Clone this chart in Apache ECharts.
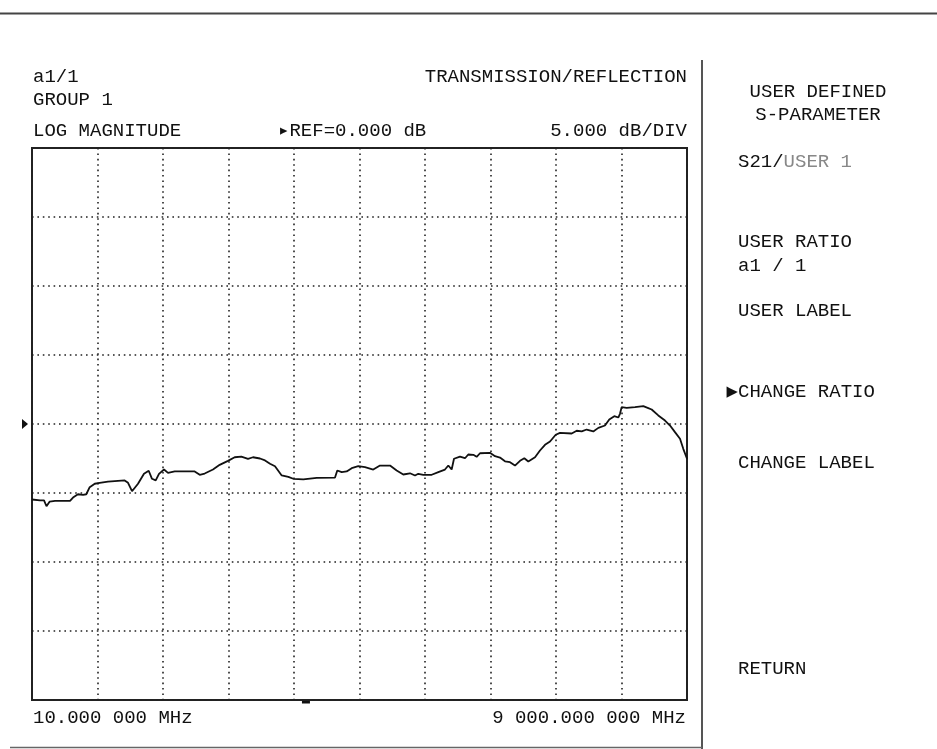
<!DOCTYPE html>
<html>
<head>
<meta charset="utf-8">
<script src="https://cdn.jsdelivr.net/npm/echarts@6/dist/echarts.min.js"></script>
<style>
html,body{margin:0;padding:0;background:#fff;}
#chart{width:937px;height:749px;}
</style>
</head>
<body>
<div id="chart"></div>
<script>
// ---- data ----
const freqMHz = [10,120,175,209,253,326,532,573,641,710,755,802,871,939,1053,1282,1328,1383,1465,1547,1612,1657,1708,1753,1822,1877,1969,2106,2243,2312,2380,2494,2586,2700,2792,2883,2975,3043,3139,3208,3277,3345,3437,3528,3596,3734,3918,4169,4200,4261,4329,4398,4488,4580,4694,4786,4924,5015,5106,5198,5267,5312,5381,5496,5587,5678,5724,5770,5802,5884,5953,5998,6067,6113,6159,6296,6365,6433,6502,6571,6639,6708,6767,6822,6914,6982,7051,7120,7198,7257,7417,7486,7555,7623,7714,7783,7874,7933,8002,8057,8080,8103,8172,8286,8400,8460,8515,8606,8698,8767,8835,8904,8949,9000];
const s21dB = [-5.47,-5.54,-5.54,-5.96,-5.62,-5.57,-5.57,-5.33,-5.09,-5.13,-5.09,-4.58,-4.33,-4.26,-4.17,-4.09,-4.26,-4.87,-4.33,-3.61,-3.39,-3.97,-4.09,-3.61,-3.30,-3.54,-3.44,-3.44,-3.44,-3.68,-3.59,-3.30,-2.96,-2.67,-2.41,-2.36,-2.52,-2.41,-2.50,-2.64,-2.88,-3.06,-3.73,-3.83,-3.97,-4.02,-3.90,-3.88,-3.37,-3.49,-3.44,-3.20,-3.06,-3.13,-3.30,-3.01,-3.01,-3.37,-3.66,-3.57,-3.73,-3.61,-3.68,-3.68,-3.49,-3.30,-3.01,-3.30,-2.52,-2.36,-2.48,-2.21,-2.23,-2.38,-2.12,-2.09,-2.33,-2.43,-2.70,-2.77,-3.01,-2.67,-2.48,-2.72,-2.41,-1.92,-1.51,-1.27,-0.78,-0.64,-0.69,-0.49,-0.54,-0.40,-0.54,-0.28,-0.11,0.33,0.57,0.47,0.74,1.22,1.17,1.22,1.29,1.17,1.05,0.62,0.25,-0.11,-0.59,-1.07,-1.80,-2.52];

const startFreq = 10;        // MHz
const stopFreq = 9000;       // MHz
const refLevel = 0;          // dB
const dbPerDiv = 5;
const yDivs = 8;
const xDivs = 10;
const markerFreq = 3770;     // MHz, small marker below the graticule

const startLabel = '10.000 000 MHz';
const stopLabel = '9 000.000 000 MHz';
const headerLeft = ['a1/1', 'GROUP 1', 'LOG MAGNITUDE'];
const headerRight = 'TRANSMISSION/REFLECTION';
const refLabel = '\u25B8REF=0.000 dB';
const scaleLabel = '5.000 dB/DIV';
const menuTitle = ['USER DEFINED', 'S-PARAMETER'];
const menuItems = ['USER RATIO', 'a1 / 1', 'USER LABEL', 'CHANGE LABEL', 'RETURN'];

const n = Math.min(freqMHz.length, s21dB.length);
const traceData = [];
for (let i = 0; i < n; i++) traceData.push([freqMHz[i], s21dB[i]]);

const FONT = "19px 'Liberation Mono', 'DejaVu Sans Mono', monospace";
const dotted = {color: '#222', width: 1.6, type: [1.6, 3.8]};

const chart = echarts.init(document.getElementById('chart'), null, {renderer: 'canvas'});

const yMin = refLevel - dbPerDiv * yDivs / 2;
const yMax = refLevel + dbPerDiv * yDivs / 2;

chart.setOption({
  animation: false,
  backgroundColor: '#ffffff',
  grid: {left: 32, top: 148, width: 655, height: 552, show: true,
         borderColor: '#222', borderWidth: 2, backgroundColor: 'transparent'},
  xAxis: [
    {type: 'value', min: startFreq, max: stopFreq, show: false},
    {type: 'value', min: 0, max: xDivs, interval: 1, position: 'bottom',
     axisLine: {show: false}, axisTick: {show: false}, axisLabel: {show: false},
     splitLine: {show: true, lineStyle: dotted}}
  ],
  yAxis: {type: 'value', min: yMin, max: yMax, interval: dbPerDiv,
    axisLine: {show: false}, axisTick: {show: false}, axisLabel: {show: false},
    splitLine: {show: true, lineStyle: dotted}},
  series: [{
    type: 'line', xAxisIndex: 0, yAxisIndex: 0, data: traceData,
    showSymbol: false, symbol: 'none', z: 5,
    lineStyle: {color: '#111', width: 1.8}
  }]
});

const refY = chart.convertToPixel({yAxisIndex: 0}, refLevel);
const markX = chart.convertToPixel({xAxisIndex: 0}, markerFreq);

function txt(text, x, y, align, extra) {
  return {type: 'text', z: 10, style: Object.assign({
    text: text, x: x, y: y, font: FONT, fill: '#111',
    textAlign: align || 'left', textVerticalAlign: 'middle'
  }, extra || {})};
}

chart.setOption({
  graphic: [
    {type: 'line', shape: {x1: 0, y1: 13.5, x2: 937, y2: 13.5}, style: {stroke: '#444', lineWidth: 2}},
    {type: 'line', shape: {x1: 702, y1: 60, x2: 702, y2: 749}, style: {stroke: '#555', lineWidth: 2}},
    {type: 'line', shape: {x1: 10, y1: 747.5, x2: 702, y2: 747.5}, style: {stroke: '#666', lineWidth: 1.5}},
    {type: 'polygon', shape: {points: [[22, refY - 5], [28, refY], [22, refY + 5]]}, style: {fill: '#111'}},
    {type: 'rect', shape: {x: markX - 4, y: 701, width: 8, height: 2.5}, style: {fill: '#111'}},
    txt(headerLeft[0], 33, 77),
    txt(headerLeft[1], 33, 100),
    txt(headerLeft[2], 33, 131),
    txt(headerRight, 687, 77, 'right'),
    txt(refLabel, 278, 131),
    txt(scaleLabel, 687, 131, 'right'),
    txt(startLabel, 33, 718),
    txt(stopLabel, 686, 718, 'right'),
    txt(menuTitle[0], 818, 92, 'center'),
    txt(menuTitle[1], 818, 115, 'center'),
    {type: 'text', z: 10, style: {
      text: 'S21/{g|USER 1}', x: 738, y: 162, font: FONT, fill: '#111',
      textVerticalAlign: 'middle',
      rich: {g: {fill: '#888', font: FONT}}
    }},
    txt(menuItems[0], 738, 242),
    txt(menuItems[1], 738, 266),
    txt(menuItems[2], 738, 311),
    txt('\u25B6CHANGE RATIO', 726.6, 392),
    txt(menuItems[3], 738, 463),
    txt(menuItems[4], 738, 669)
  ]
});
</script>
</body>
</html>
